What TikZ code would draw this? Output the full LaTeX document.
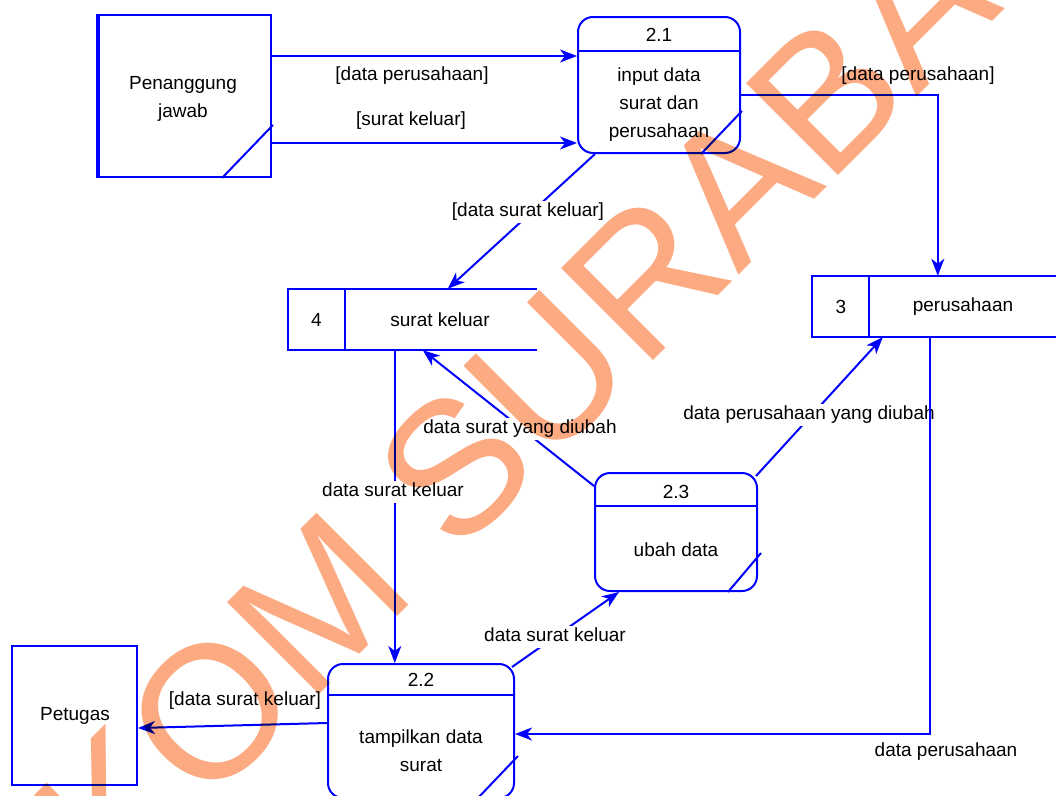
\documentclass[tikz,border=0pt]{standalone}
\usepackage{fontspec}
\setmainfont{Liberation Sans}
\usetikzlibrary{arrows.meta,calc}
\definecolor{dfdblue}{RGB}{0,0,255}
\definecolor{wmorange}{RGB}{252,170,130}
\newcommand\dfdfont{\fontsize{19}{28}\selectfont}
\newcommand\wmfont{\fontsize{189}{189}\selectfont}

\begin{document}
\begin{tikzpicture}[x=1pt,y=-1pt,
  ln/.style={draw=dfdblue,line width=2pt},
  flow/.style={draw=dfdblue,line width=2pt,-{Stealth[length=17pt,width=13pt,inset=5pt]}},
  lbl/.style={fill=white,inner sep=1.5pt,font=\dfdfont,text height=14pt,text depth=4.5pt},
  txt/.style={inner sep=0pt,font=\dfdfont,align=center},
  proc/.style={draw=dfdblue,line width=2pt,rounded corners=15pt,inner sep=0pt},
  ent/.style={draw=dfdblue,line width=2pt,inner sep=0pt},
  store/.style={inner sep=0pt}]
\useasboundingbox (0,0) rectangle (1056,795);
\clip (0,0) rectangle (1056,795);
\fill[white] (0,0) rectangle (1056,795);

% external entities
\node[ent,minimum width=172pt,minimum height=162pt] (PJ) at (185,96) {};
\draw[dfdblue,line width=3.5pt] (PJ.south west) -- (PJ.north west);
\draw[ln] ($(PJ.south west)+(124,0)$) -- ($(PJ.south east)+(1,-53)$);
\node[txt] (PJt) at (183,99) {Penanggung\\jawab};

\node[ent,minimum width=125pt,minimum height=139pt] (PT) at (74.5,715.5) {};
\node[txt] (PTt) at (75,716) {Petugas};

% processes
\node[proc,minimum width=162pt,minimum height=136pt] (P21) at (659,85) {};
\draw[ln] ($(P21.north west)+(0,35)$) -- ($(P21.north east)+(0,35)$);
\draw[ln] ($(P21.south east)+(-40,0)$) -- ($(P21.south east)+(1,-43)$);
\node[txt] (P21n) at (659,35) {2.1};
\node[txt] (P21t) at (659,105) {input data\\surat dan\\perusahaan};

\node[proc,minimum width=162pt,minimum height=118pt] (P23) at (676,532) {};
\draw[ln] ($(P23.north west)+(0,34)$) -- ($(P23.north east)+(0,34)$);
\draw[ln] ($(P23.south east)+(-30,0)$) -- ($(P23.south east)+(3,-39)$);
\node[txt] (P23n) at (676,492) {2.3};
\node[txt] (P23t) at (676,550) {ubah data};

\node[proc,minimum width=186pt,minimum height=134pt] (P22) at (421,731) {};
\draw[ln] ($(P22.north west)+(0,32)$) -- ($(P22.north east)+(0,32)$);
\draw[ln] ($(P22.south east)+(-38,0)$) -- ($(P22.south east)+(3,-43)$);
\node[txt] (P22n) at (421,680) {2.2};
\node[txt] (P22t) at (421,751) {tampilkan data\\surat};

% data stores
\node[store,minimum width=249pt,minimum height=61pt] (S4) at (412.5,319.5) {};
\draw[ln] (S4.north east) -- (S4.north west) -- (S4.south west) -- (S4.south east);
\draw[ln] ($(S4.north west)+(57,0)$) -- ($(S4.south west)+(57,0)$);
\node[txt] (S4n) at (316.5,320) {4};
\node[txt] (S4t) at (440,320) {surat keluar};

\node[store,minimum width=250pt,minimum height=61pt] (S3) at (937,306.5) {};
\draw[ln] (S3.north east) -- (S3.north west) -- (S3.south west) -- (S3.south east);
\draw[ln] ($(S3.north west)+(57,0)$) -- ($(S3.south west)+(57,0)$);
\node[txt] (S3n) at (841,307) {3};
\node[txt] (S3t) at (963,307) {perusahaan};

% data flows
\draw[flow] ($(PJ.east)+(0,-40)$) coordinate (a0) -- (a0 -| P21.west);
\node[lbl] (la) at (412,76) {[data perusahaan]};

\draw[flow] ($(PJ.east)+(0,47)$) coordinate (b0) -- (b0 -| P21.west);
\node[lbl] (lb) at (411,121) {[surat keluar]};

\draw[flow] ($(P21.east)+(0,10)$) -| ($(S3.north west)+(126,0)$);
\node[lbl] (lc) at (918,76) {[data perusahaan]};

\draw[flow] ($(P21.south)+(-64,0)$) -- ($(S4.north west)+(160,0)$);
\node[lbl] (ld) at (528,212) {[data surat keluar]};

\draw[flow] ($(S4.south west)+(107,0)$) coordinate (e0) -- (e0 |- P22.north);
\node[lbl] (le) at (393,492) {data surat keluar};

\draw[flow] ($(P23.west)+(0,-46)$) -- ($(S4.south west)+(135,0)$);
\node[lbl] (lf) at (520,429) {data surat yang diubah};

\draw[flow] ($(P23.north east)+(-2,4)$) -- ($(S3.south west)+(71,0)$);
\node[lbl] (lg) at (809,415) {data perusahaan yang diubah};

\draw[flow] ($(P22.north east)+(-3,4)$) -- ($(P23.south west)+(25,0)$);
\node[lbl] (lh) at (555,637) {data surat keluar};

\draw[flow] ($(S3.south west)+(118,0)$) |- ($(P22.east)+(0,3)$);
\node[lbl] (li) at (946,752) {data perusahaan};

\draw[flow] ($(P22.west)+(0,-8)$) -- ($(PT.east)+(0,12.5)$);
\node[lbl] (lj) at (245,701) {[data surat keluar]};

% watermark
\begin{scope}[blend mode=multiply]
\node[inner sep=0pt,anchor=base west,rotate=45,text=wmorange,font=\wmfont] (wm) at (-93,1107) {STIKOM SURABAYA};
\end{scope}
\end{tikzpicture}
\end{document}
